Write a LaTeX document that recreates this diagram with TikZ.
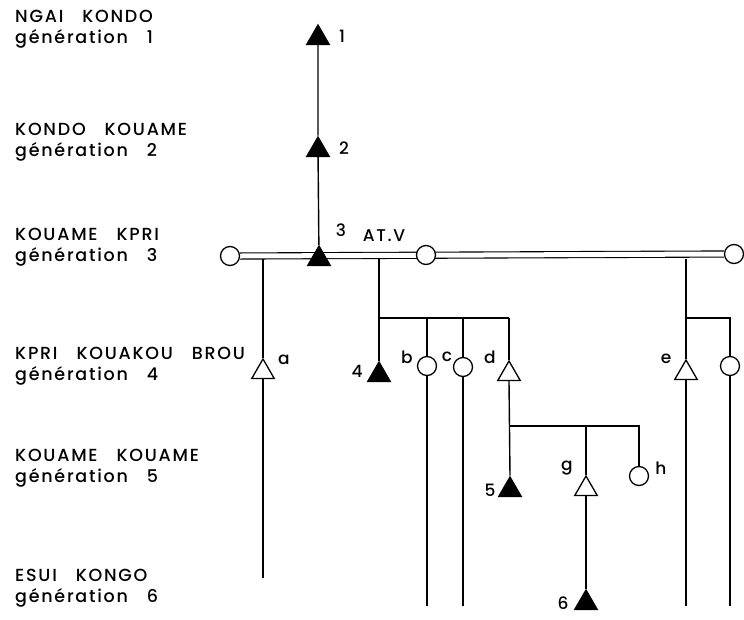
\documentclass[tikz,border=0pt]{standalone}
\usepackage{fontspec}
\setmainfont{Poppins Medium}[LetterSpace=10,WordSpace=3]
\usetikzlibrary{shapes.geometric,backgrounds}

\tikzset{
  male/.style={regular polygon,regular polygon sides=3,draw,fill=white,
    minimum size=26pt,inner sep=0pt,line width=1.3pt},
  dead/.style={male,fill=black},
  female/.style={circle,draw,fill=white,minimum size=19pt,inner sep=0pt,line width=1.3pt},
  tag/.style={font=\fontsize{17}{17}\selectfont,inner sep=1pt},
  genlabel/.style={anchor=west,align=left,inner sep=0pt,font=\fontsize{17.5}{21}\selectfont},
  kin/.style={line width=1.4pt},
  marriage/.style={double,double distance=5pt,line width=1.1pt}
}

\begin{document}
\begin{tikzpicture}[x=1pt,y=-1pt]
  \useasboundingbox (0,0) rectangle (744,619);

  % generations on the left
  \foreach \t/\y [count=\i] in {NGAI KONDO/29, KONDO KOUAME/142, KOUAME KPRI/247,
      KPRI KOUAKOU BROU/366, KOUAME KOUAME/468, ESUI KONGO/588}
    \node[genlabel] (g\i) at (15,\y) {\t\\génération \i};

  % line of descent
  \node[dead] (t1) at (318,38) {};
  \node[dead] (t2) at (318,150) {};
  \node[dead] (t3) at (319,259) {};
  \node[female] (w1) at (230,256) {};
  \node[female] (w2) at (426,255) {};
  \node[female] (w3) at (734,254) {};

  % generation 4
  \node[male] (ta) at (263,372) {};
  \node[dead] (t4) at (379,375) {};
  \node[female] (cb) at (427,366) {};
  \node[female] (cc) at (463,367) {};
  \node[male] (td) at (509,374) {};
  \node[male] (te) at (686,373) {};
  \node[female] (cf) at (730,366) {};

  % generations 5 and 6
  \node[dead] (t5) at (510,490) {};
  \node[male] (tg) at (586,489) {};
  \node[female] (ch) at (639,476) {};
  \node[dead] (t6) at (586,603) {};

  % numbers and letters
  \node[tag] at (342,36) {1};
  \node[tag] at (344,148) {2};
  \node[tag] (n3) at (341,230) {3};
  \node[tag] (atv) at (384,236) {AT.V};
  \node[tag] at (284,360) {a};
  \node[tag] at (357,371) {4};
  \node[tag] at (407,357) {b};
  \node[tag] at (447,357) {c};
  \node[tag] at (490,357) {d};
  \node[tag] at (666,359) {e};
  \node[tag] at (490,490) {5};
  \node[tag] at (567,468) {g};
  \node[tag] at (661,468) {h};
  \node[tag] at (563,603) {6};

  \coordinate (sib4) at (0,318);
  \coordinate (sib5) at (0,426);
  \foreach \n/\y in {ta/578, cb/606, cc/606, te/606, cf/606}
    \coordinate (end\n) at (\n |- 0,\y);

  \begin{scope}[on background layer]
    \draw[kin] (t1) -- (t2) -- (t3);
    \foreach \n in {ta,t4,te}
      \draw[kin] (\n |- t3) -- (\n.north);
    \draw[kin] (t4 |- sib4) -- (td |- sib4);
    \foreach \n in {cb,cc,td}
      \draw[kin] (\n |- sib4) -- (\n.north);
    \draw[kin] (te |- sib4) -| (cf.north);
    \foreach \n in {ta,cb,cc,te,cf}
      \draw[kin] (\n.south) -- (end\n);
    \draw[kin] (td.south) -- (t5.north);
    \draw[kin] (t5 |- sib5) -| (ch.north);
    \draw[kin] (tg |- sib5) -- (tg.north);
    \draw[kin] (tg.south) -- (t6.north);
    \draw[marriage] (w1.east) -- (w3.west);
  \end{scope}
\end{tikzpicture}
\end{document}
